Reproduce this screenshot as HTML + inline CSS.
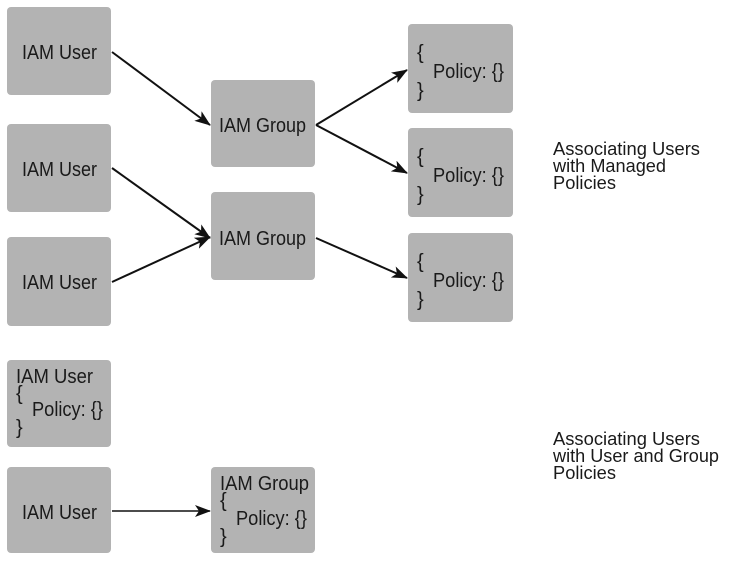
<!DOCTYPE html>
<html><head><meta charset="utf-8"><style>
html,body{margin:0;padding:0;background:#fff;}
svg{display:block;}
text{font-family:"Liberation Sans",sans-serif;fill:#1a1a1a;}
</style></head><body>
<svg width="734" height="565" viewBox="0 0 734 565" xmlns="http://www.w3.org/2000/svg">
<defs><marker id="a" markerWidth="16" markerHeight="12" refX="15" refY="6" orient="auto" markerUnits="userSpaceOnUse"><path d="M0,0 L16,6 L0,12 L4,6 Z" fill="#111"/></marker></defs>
<g fill="#b3b3b3">
<rect x="7" y="7" width="104" height="88" rx="4"/>
<rect x="7" y="124" width="104" height="88" rx="4"/>
<rect x="7" y="237" width="104" height="89" rx="4"/>
<rect x="211" y="80" width="104" height="87" rx="4"/>
<rect x="211" y="192" width="104" height="88" rx="4"/>
<rect x="408" y="24" width="105" height="89" rx="4"/>
<rect x="408" y="128" width="105" height="89" rx="4"/>
<rect x="408" y="233" width="105" height="89" rx="4"/>
<rect x="7" y="360" width="104" height="87" rx="4"/>
<rect x="7" y="467" width="104" height="86" rx="4"/>
<rect x="211" y="467" width="104" height="86" rx="4"/>
</g>
<g stroke="#111" stroke-width="2" fill="none" marker-end="url(#a)">
<line x1="112" y1="52" x2="210" y2="125"/>
<line x1="112" y1="168" x2="210" y2="238"/>
<line x1="112" y1="282" x2="210" y2="237"/>
<line x1="316" y1="125" x2="407" y2="70"/>
<line x1="316" y1="125" x2="407" y2="173"/>
<line x1="316" y1="238" x2="407" y2="278"/>
<line x1="112" y1="511" x2="210" y2="511" stroke-width="1.5"/>
</g>
<g font-size="20">
<text x="22" y="59" textLength="75" lengthAdjust="spacingAndGlyphs">IAM User</text>
<text x="22" y="176" textLength="75" lengthAdjust="spacingAndGlyphs">IAM User</text>
<text x="22" y="289" textLength="75" lengthAdjust="spacingAndGlyphs">IAM User</text>
<text x="219" y="132" textLength="87" lengthAdjust="spacingAndGlyphs">IAM Group</text>
<text x="219" y="245" textLength="87" lengthAdjust="spacingAndGlyphs">IAM Group</text>
<text x="22" y="519" textLength="75" lengthAdjust="spacingAndGlyphs">IAM User</text>

<text x="417" y="59">{</text><text x="433" y="78" textLength="71" lengthAdjust="spacingAndGlyphs">Policy: {}</text><text x="417" y="97">}</text>
<text x="417" y="163">{</text><text x="433" y="182" textLength="71" lengthAdjust="spacingAndGlyphs">Policy: {}</text><text x="417" y="201">}</text>
<text x="417" y="268">{</text><text x="433" y="287" textLength="71" lengthAdjust="spacingAndGlyphs">Policy: {}</text><text x="417" y="306">}</text>

<text x="16" y="383" textLength="77" lengthAdjust="spacingAndGlyphs">IAM User</text>
<text x="16" y="400">{</text><text x="32" y="416" textLength="71" lengthAdjust="spacingAndGlyphs">Policy: {}</text><text x="16" y="434">}</text>

<text x="220" y="490" textLength="89" lengthAdjust="spacingAndGlyphs">IAM Group</text>
<text x="220" y="507">{</text><text x="236" y="525" textLength="71" lengthAdjust="spacingAndGlyphs">Policy: {}</text><text x="220" y="543">}</text>
</g>
<g font-size="18">
<text x="553" y="155" textLength="147" lengthAdjust="spacingAndGlyphs">Associating Users</text>
<text x="553" y="172" textLength="113" lengthAdjust="spacingAndGlyphs">with Managed</text>
<text x="553" y="189" textLength="63" lengthAdjust="spacingAndGlyphs">Policies</text>
<text x="553" y="445" textLength="147" lengthAdjust="spacingAndGlyphs">Associating Users</text>
<text x="553" y="462" textLength="166" lengthAdjust="spacingAndGlyphs">with User and Group</text>
<text x="553" y="479" textLength="63" lengthAdjust="spacingAndGlyphs">Policies</text>
</g>
</svg>
</body></html>
